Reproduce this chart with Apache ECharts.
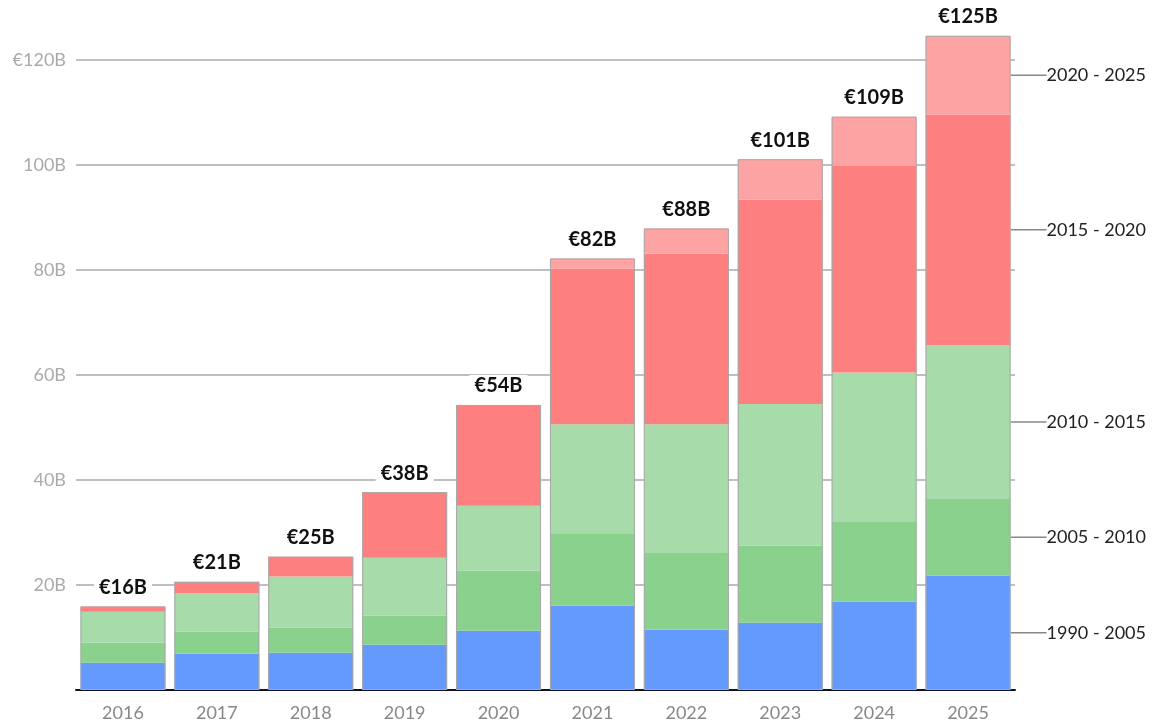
<!DOCTYPE html>
<html>
<head>
<meta charset="utf-8">
<script src="https://cdn.jsdelivr.net/npm/echarts@6/dist/echarts.min.js"></script>
<style>
  html, body { margin: 0; padding: 0; background: #fff; }
  #chart { width: 1164px; height: 725px; }
</style>
</head>
<body>
<div id="chart"></div>
<script>
// categories
const years = ['2016', '2017', '2018', '2019', '2020', '2021', '2022', '2023', '2024', '2025'];
// tick values for the y axis
const yTicks = [0, 20, 40, 60, 80, 100, 120];

// stacked segments (billion euro)
const seg1990_2005 = [5.2, 6.9, 7.1, 8.6, 11.3, 16.1, 11.5, 12.8, 16.8, 21.8];
const seg2005_2010 = [3.8, 4.2, 4.8, 5.6, 11.4, 13.6, 14.6, 14.7, 15.2, 14.6];
const seg2010_2015 = [5.9, 7.4, 9.7, 11.0, 12.4, 20.9, 24.5, 27.0, 28.5, 29.3];
const seg2015_2020 = [1.0, 2.1, 3.8, 12.5, 19.2, 29.7, 32.5, 38.9, 39.3, 43.9];
const seg2020_2025 = [0, 0, 0, 0, 0, 1.9, 4.8, 7.7, 9.4, 15.0];

const segNames = ['1990 - 2005', '2005 - 2010', '2010 - 2015', '2015 - 2020', '2020 - 2025'];
const segColors = ['#6499fd', '#8bd18e', '#a7dbaa', '#fe7f7f', '#fea3a3'];
const segData = [seg1990_2005, seg2005_2010, seg2010_2015, seg2015_2020, seg2020_2025];

const totals = years.map((y, i) => segData.reduce((s, arr) => s + arr[i], 0));
const last = years.length - 1;

const font = 'Lato, "Noto Sans", sans-serif';

const myChart = echarts.init(document.getElementById('chart'));

const series = segData.map((arr, k) => ({
  name: segNames[k],
  type: 'bar',
  stack: 'total',
  barWidth: 85,
  clip: false,
  itemStyle: { color: segColors[k] },
  // only the last bar carries the segment name on the right
  label: {
    show: false,
    position: 'right',
    distance: 0,
    padding: [0, 0, 0, 6],
    formatter: '{a}',
    color: '#222',
    fontSize: 18,
    fontFamily: font
  },
  labelLayout: { dx: 30 },
  labelLine: { show: true, lineStyle: { color: '#888', width: 1.5 } },
  data: arr.map((v, i) => i === last ? { value: v, label: { show: true } } : v)
}));

// thin outline round every stack, with the total on top
series.push({
  name: 'total',
  type: 'bar',
  barWidth: 85,
  barGap: '-100%',
  clip: false,
  z: 5,
  silent: true,
  itemStyle: { color: 'rgba(0,0,0,0)', borderColor: '#a9a9a9', borderWidth: 1 },
  label: {
    show: true,
    position: 'top',
    distance: 8,
    color: '#111',
    fontSize: 20,
    fontWeight: 'bold',
    fontFamily: font,
    backgroundColor: '#fff',
    padding: [1, 5],
    formatter: p => '€' + Math.round(p.value) + 'B'
  },
  data: totals
});

const option = {
  animation: false,
  grid: { left: 76, right: 149, top: 60, bottom: 35 },
  xAxis: {
    type: 'category',
    data: years,
    axisTick: { show: false },
    axisLine: { lineStyle: { color: '#111122', width: 2 } },
    axisLabel: { color: '#888', fontSize: 18, fontFamily: font, margin: 14 }
  },
  yAxis: {
    type: 'value',
    min: yTicks[0],
    max: yTicks[yTicks.length - 1],
    interval: 20,
    axisLine: { show: false },
    axisTick: { show: false },
    axisLabel: {
      color: '#aaa',
      fontSize: 18,
      fontFamily: font,
      margin: 10,
      formatter: v => v === 0 ? '' : (v === 120 ? '€' + v + 'B' : v + 'B')
    },
    splitLine: { lineStyle: { color: '#aaa', width: 1.5 } }
  },
  series: series
};

myChart.setOption(option);
</script>
</body>
</html>
